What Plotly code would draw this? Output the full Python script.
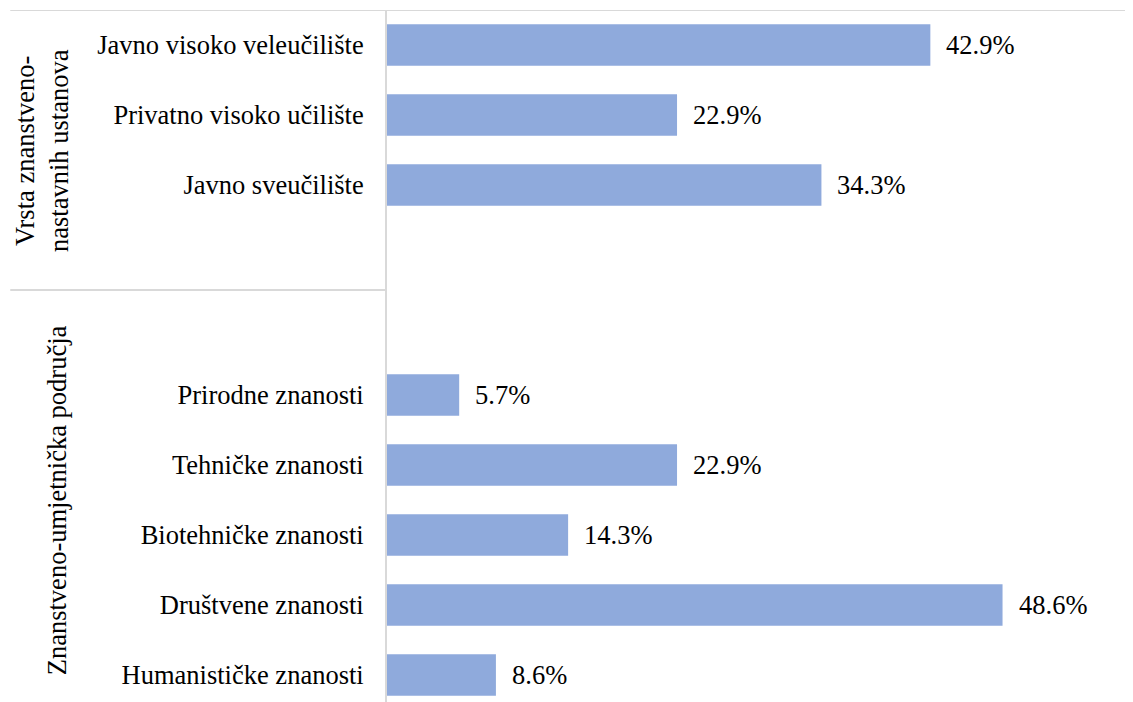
import plotly.graph_objects as go

# categories top to bottom; the two blank slots separate the groups
categories = ["Javno visoko veleučilište", "Privatno visoko učilište", "Javno sveučilište", " ",
              "  ", "Prirodne znanosti", "Tehničke znanosti", "Biotehničke znanosti",
              "Društvene znanosti", "Humanističke znanosti"]
values = [42.9, 22.9, 34.3, None, None, 5.7, 22.9, 14.3, 48.6, 8.6]
group_labels = ["Vrsta znanstveno-<br>nastavnih ustanova", "Znanstveno-umjetnička područja"]

FONT = "Liberation Serif"
GRID = "#d9d9d9"
FS = 26.5

fig = go.Figure()
fig.add_trace(go.Bar(
    x=values,
    y=categories,
    orientation="h",
    marker=dict(color="#8faadc", line=dict(width=0)),
    hoverinfo="x+y",
))

# value labels to the right of each bar
for cat, v in zip(categories, values):
    if v is None:
        continue
    fig.add_annotation(x=v, y=cat, text=f"{v:.1f}%", showarrow=False,
                       xanchor="left", xshift=14, font=dict(size=FS, color="black", family=FONT))

# group labels (rotated)
fig.add_annotation(x=-0.4625, y=1.5, xref="paper", yref="y", text=group_labels[0],
                   textangle=-90, showarrow=False, xanchor="center", yanchor="middle",
                   font=dict(size=FS, color="black", family=FONT))
fig.add_annotation(x=-0.442, y=6.5, xref="paper", yref="y", text=group_labels[1],
                   textangle=-90, showarrow=False, xanchor="center", yanchor="middle",
                   font=dict(size=FS, color="black", family=FONT))

# top line and group separator
fig.add_shape(type="line", xref="paper", yref="y", x0=-0.505, x1=1, y0=-0.5, y1=-0.5,
              line=dict(color=GRID, width=2))
fig.add_shape(type="line", xref="paper", yref="y", x0=-0.505, x1=0, y0=3.5, y1=3.5,
              line=dict(color=GRID, width=2))

# page body has an 8px margin, so the figure is a bit smaller than the window
fig.update_layout(
    width=1125, height=694,
    margin=dict(l=379, r=0, t=2, b=0),
    paper_bgcolor="white", plot_bgcolor="white",
    bargap=0.41,
    showlegend=False,
    font=dict(family=FONT, size=FS, color="black"),
)
fig.update_xaxes(range=[0, 58.9], visible=False)
fig.update_yaxes(
    type="category",
    categoryorder="array", categoryarray=categories,
    range=[9.386, -0.5],
    showline=True, linecolor=GRID, linewidth=2,
    showgrid=False, ticks="", ticklabelstandoff=16,
    tickfont=dict(size=FS, color="black", family=FONT),
)

fig.write_html("out.html")
